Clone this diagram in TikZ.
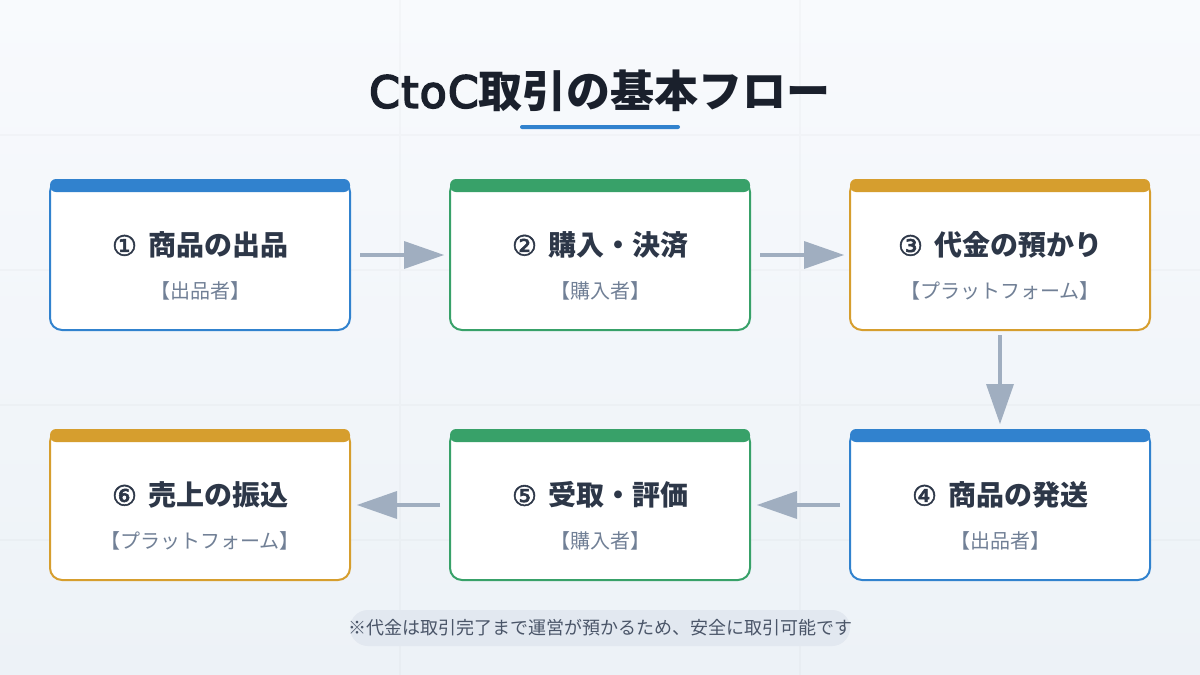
\documentclass[tikz,border=0pt]{standalone}
\usepackage{fontspec}
\usepackage{tikz}
\usetikzlibrary{arrows.meta}
\newfontfamily\jpfont{Noto Sans CJK JP}
\newfontfamily\latinfont[FakeBold=2]{DejaVu Sans}
\newfontfamily\titlefont[FakeBold=4,LetterSpace=3]{DejaVu Sans}
\definecolor{bluecard}{HTML}{3182CE}
\definecolor{greencard}{HTML}{38A169}
\definecolor{goldcard}{HTML}{D69E2E}
\definecolor{darktext}{HTML}{2D3748}
\definecolor{titletext}{HTML}{1A202C}
\definecolor{subtext}{HTML}{718096}
\definecolor{notetext}{HTML}{4A5568}
\definecolor{notefill}{HTML}{E2E8F0}
\definecolor{flowgray}{HTML}{A0AEC0}
\definecolor{bgtop}{HTML}{F8FAFD}
\definecolor{bgbottom}{HTML}{EDF2F7}
\tikzset{
  flowcard/.style={draw=#1,line width=2pt,fill=white,rounded corners=12pt,minimum width=300pt,minimum height=150pt,inner sep=0pt},
  topbar/.style={fill=#1,rounded corners=6pt,minimum width=300pt,minimum height=13pt,inner sep=0pt,outer sep=0pt,anchor=north},
  headtext/.style={text=darktext,inner sep=0pt,font=\fontsize{28pt}{32pt}\selectfont},
  subhead/.style={text=subtext,inner sep=0pt,font=\fontsize{20pt}{24pt}\jpfont},
  flowarrow/.style={draw=flowgray,line width=4pt,-{Triangle[length=40pt,width=28pt,fill=flowgray,line width=0pt]}}
}
\newcommand{\stepnum}[2]{{\latinfont #1}\hspace{11pt}{\jpfont\bfseries #2}}
\begin{document}
\begin{tikzpicture}[x=1pt,y=1pt,node distance=400pt]
\useasboundingbox (0,0) rectangle (1200,-675);
\shade[top color=bgtop,bottom color=bgbottom] (0,0) rectangle (1200,-675);
\draw[line width=2pt,black!60,opacity=.03] (400,0) -- (400,-675) (800,0) -- (800,-675)
  (0,-135) -- (1200,-135) (0,-270) -- (1200,-270) (0,-405) -- (1200,-405) (0,-540) -- (1200,-540);

\node[text=titletext,inner sep=0pt,font=\fontsize{44pt}{52pt}\selectfont] (title) at (600,-91) {{\titlefont CtoC}{\jpfont\bfseries 取引の基本フロー}};
\node[fill=bluecard,rounded corners=2pt,minimum width=160pt,minimum height=4pt,inner sep=0pt] (rule) at (600,-127) {};

\node[flowcard=bluecard]  (c1) at (200,-255) {};
\node[flowcard=greencard] (c2) [right of=c1] {};
\node[flowcard=goldcard]  (c3) [right of=c2] {};
\node[flowcard=bluecard]  (c4) [below of=c3,node distance=250pt] {};
\node[flowcard=greencard] (c5) [left of=c4] {};
\node[flowcard=goldcard]  (c6) [left of=c5] {};

\node[topbar=bluecard]  (b1) at (c1.north) {};
\node[topbar=greencard] (b2) at (c2.north) {};
\node[topbar=goldcard]  (b3) at (c3.north) {};
\node[topbar=bluecard]  (b4) at (c4.north) {};
\node[topbar=greencard] (b5) at (c5.north) {};
\node[topbar=goldcard]  (b6) at (c6.north) {};

\node[headtext] (h1) [above of=c1,node distance=10pt] {\stepnum{①}{商品の出品}};
\node[headtext] (h2) [above of=c2,node distance=10pt] {\stepnum{②}{購入・決済}};
\node[headtext] (h3) [above of=c3,node distance=10pt] {\stepnum{③}{代金の預かり}};
\node[headtext] (h4) [above of=c4,node distance=10pt] {\stepnum{④}{商品の発送}};
\node[headtext] (h5) [above of=c5,node distance=10pt] {\stepnum{⑤}{受取・評価}};
\node[headtext] (h6) [above of=c6,node distance=10pt] {\stepnum{⑥}{売上の振込}};

\node[subhead] (s1) [below of=c1,node distance=36pt] {【出品者】};
\node[subhead] (s2) [below of=c2,node distance=36pt] {【購入者】};
\node[subhead] (s3) [below of=c3,node distance=36pt] {【プラットフォーム】};
\node[subhead] (s4) [below of=c4,node distance=36pt] {【出品者】};
\node[subhead] (s5) [below of=c5,node distance=36pt] {【購入者】};
\node[subhead] (s6) [below of=c6,node distance=36pt] {【プラットフォーム】};

\path[flowarrow,shorten <=9pt,shorten >=5pt]
          (c1) edge (c2)
          (c2) edge (c3);
\path[flowarrow,shorten <=4pt,shorten >=5pt]
          (c3) edge (c4);
\path[flowarrow,shorten <=9pt,shorten >=6pt]
          (c4) edge (c5)
          (c5) edge (c6);

\node[fill=notefill,rounded corners=18pt,minimum width=500pt,minimum height=36pt,inner sep=0pt,text=notetext,font=\fontsize{18pt}{22pt}\jpfont] (note) at (600,-628) {\makebox[500pt][c]{※代金は取引完了まで運営が預かるため、安全に取引可能です}};
\end{tikzpicture}
\end{document}
